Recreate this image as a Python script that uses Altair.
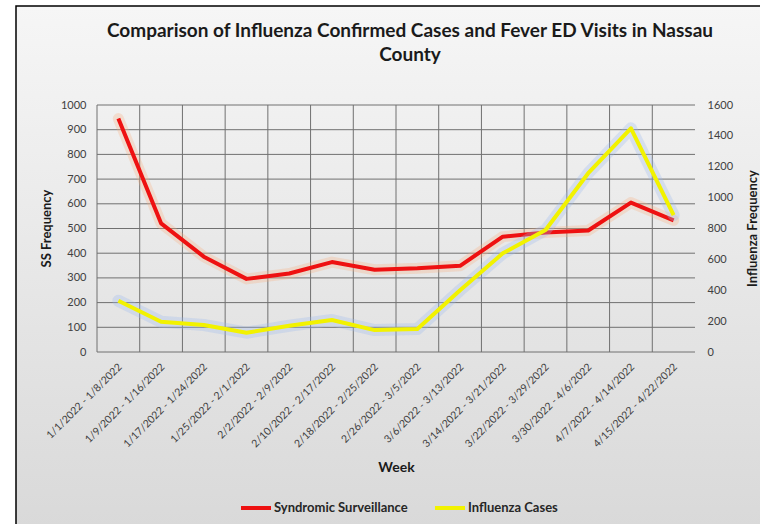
import altair as alt
import pandas as pd

weeks = ["1/1/2022 - 1/8/2022", "1/9/2022 - 1/16/2022", "1/17/2022 - 1/24/2022",
         "1/25/2022 - 2/1/2022", "2/2/2022 - 2/9/2022", "2/10/2022 - 2/17/2022",
         "2/18/2022 - 2/25/2022", "2/26/2022 - 3/5/2022", "3/6/2022 - 3/13/2022",
         "3/14/2022 - 3/21/2022", "3/22/2022 - 3/29/2022", "3/30/2022 - 4/6/2022",
         "4/7/2022 - 4/14/2022", "4/15/2022 - 4/22/2022"]
ss_values = [945, 521, 386, 296, 318, 364, 333, 339, 349, 467, 484, 492, 605, 533]
flu_values = [332, 196, 175, 125, 170, 207, 142, 149, 400, 639, 790, 1158, 1449, 887]
ss_ticks = [0, 100, 200, 300, 400, 500, 600, 700, 800, 900, 1000]
flu_ticks = [0, 200, 400, 600, 800, 1000, 1200, 1400, 1600]
series_names = ["Syndromic Surveillance", "Influenza Cases"]
series_colors = ["#ee1111", "#f2f200"]

FONT = "Lato"

df_ss = pd.DataFrame({"Week": weeks, "Value": ss_values, "Series": series_names[0]})
df_flu = pd.DataFrame({"Week": weeks, "Value": flu_values, "Series": series_names[1]})
df_weeks = pd.DataFrame({"Week": weeks})
df_grid = pd.DataFrame({"v": ss_ticks})

x_scale = alt.Scale(type="band", paddingInner=0, paddingOuter=0)
x_axis = alt.Axis(title="Week", labelAngle=315, labelAlign="right", labelBaseline="middle",
                  labelPadding=13, labelOffset=2, ticks=False, domain=False, grid=False, zindex=1,
                  labelFont=FONT, labelFontSize=10.5, labelColor="#404040",
                  titleFont=FONT, titleFontSize=14, titleFontWeight="bold", titleColor="#1a1a1a",
                  titleY=115, titleBaseline="middle", labelLimit=200)

def xenc(bp):
    return alt.X("Week:N", sort=weeks, scale=x_scale, axis=x_axis, bandPosition=bp)

left_scale = alt.Scale(domain=[0, 1000], nice=False)
left_axis = alt.Axis(title="SS Frequency", values=ss_ticks, format="d", grid=False, ticks=False, domain=False,
                     labelPadding=11, labelFont=FONT, labelFontSize=11, labelColor="#404040",
                     titleFont=FONT, titleFontSize=13, titleFontWeight="bold", titleColor="#1a1a1a",
                     titleX=-51, titleY=123, titleAngle=270, titleAlign="center", titleBaseline="middle",
                     orient="left", zindex=1)
right_scale = alt.Scale(domain=[0, 1600], nice=False)
right_axis = alt.Axis(title="Influenza Frequency", values=flu_ticks, format="d", grid=False, ticks=False,
                      domain=False,
                      labelPadding=12, labelFont=FONT, labelFontSize=11, labelColor="#404040",
                      titleFont=FONT, titleFontSize=13, titleFontWeight="bold", titleColor="#1a1a1a",
                      titleX=57, titleY=123, titleAngle=270, titleAlign="center", titleBaseline="middle",
                      orient="right", zindex=1)

color_scale = alt.Scale(domain=series_names, range=series_colors)
legend = alt.Legend(title=None, orient="none", legendX=142, legendY=386, direction="horizontal",
                    symbolType="stroke", symbolStrokeWidth=4, symbolSize=900,
                    labelFont=FONT, labelFontSize=13, labelFontWeight="bold", labelColor="#262626",
                    columnPadding=19, labelOffset=1, zindex=1, labelLimit=300)

bg = alt.Chart(alt.Data(values=[{"a": 1}])).mark_rect(
    color=alt.Gradient(gradient="linear", x1=0, x2=0, y1=0, y2=1,
                       stops=[alt.GradientStop(color="#f6f6f6", offset=0),
                              alt.GradientStop(color="#d8d8d8", offset=1)]),
    stroke="#000000", strokeWidth=1.5
).encode(x=alt.value(-81), x2=alt.value(690), y=alt.value(-99), y2=alt.value(440))

vgrid = alt.Chart(df_weeks).mark_rule(color="#707070", strokeWidth=1).encode(x=xenc(0))

hgrid = alt.Chart(df_grid).mark_rule(color="#707070", strokeWidth=1).encode(
    y=alt.Y("v:Q", scale=left_scale, axis=left_axis))

red_glow = alt.Chart(df_ss).mark_line(color="#f7b080", strokeWidth=11, opacity=0.3,
                                      strokeJoin="round", strokeCap="round").encode(
    x=xenc(0.5), y=alt.Y("Value:Q", scale=left_scale, axis=left_axis))
red_line = alt.Chart(df_ss).mark_line(strokeWidth=4, strokeJoin="round").encode(
    x=xenc(0.5), y=alt.Y("Value:Q", scale=left_scale, axis=left_axis),
    color=alt.Color("Series:N", scale=color_scale, legend=legend))

yel_glow = alt.Chart(df_flu).mark_line(color="#9bb8f0", strokeWidth=12, opacity=0.3,
                                       strokeJoin="round", strokeCap="round").encode(
    x=xenc(0.5), y=alt.Y("Value:Q", scale=right_scale, axis=right_axis))
yel_line = alt.Chart(df_flu).mark_line(strokeWidth=4, strokeJoin="round").encode(
    x=xenc(0.5), y=alt.Y("Value:Q", scale=right_scale, axis=right_axis),
    color=alt.Color("Series:N", scale=color_scale, legend=legend))

left = alt.layer(hgrid, red_glow, red_line)
right = alt.layer(yel_glow, yel_line)

chart = alt.layer(bg, vgrid, left, right).resolve_scale(y="independent").properties(
    width=598, height=247,
    title=alt.TitleParams(
        text=["Comparison of Influenza Confirmed Cases and Fever ED Visits in Nassau", "County"],
        font=FONT, fontSize=19, fontWeight="bold", color="#1a1a1a",
        anchor="middle", frame="group", dx=14, offset=-79, lineHeight=24, baseline="bottom",
        zindex=1),
    autosize=alt.AutoSizeParams(type="none"),
    padding={"left": 97, "top": 105, "right": 65, "bottom": 172},
    background="#ffffff",
).configure_view(stroke="#707070", strokeWidth=1)

chart.save("out.html", embed_options={"renderer": "svg", "actions": False})
